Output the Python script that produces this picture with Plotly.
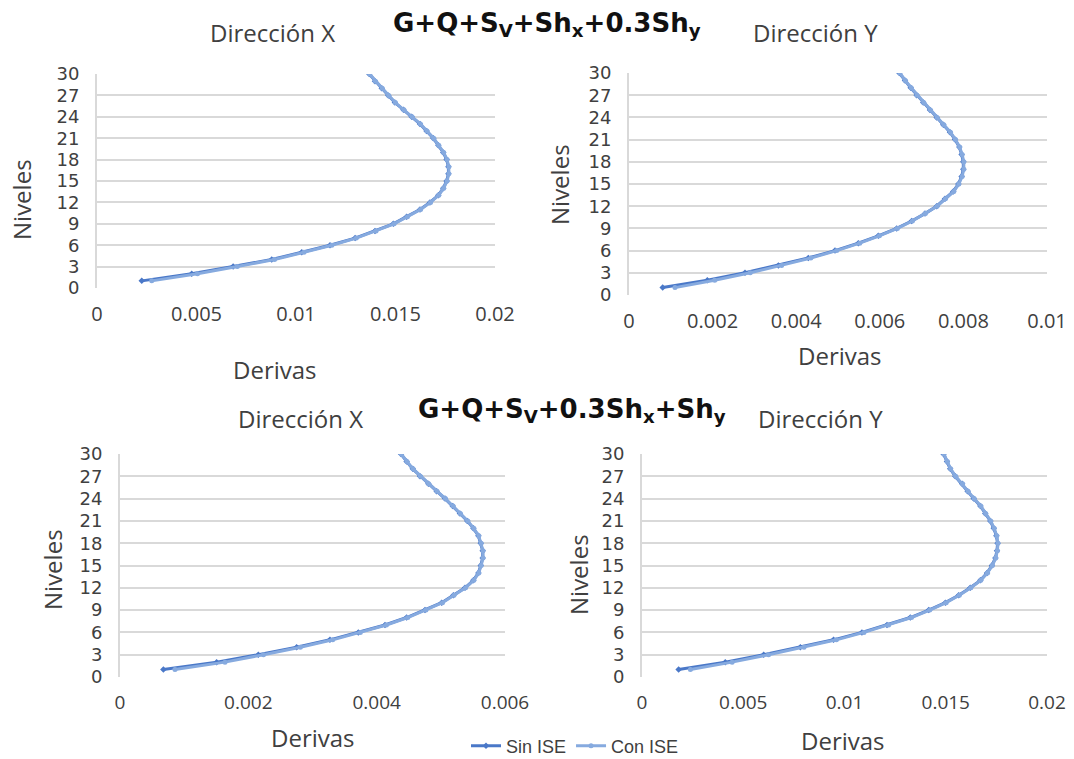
import plotly.graph_objects as go

niveles = list(range(1, 31))

# Panel 1: G+Q+Sv+Shx+0.3Shy, Dirección X
p1_sin = [0.00225,0.00476,0.00684,0.00878,0.01029,0.01171,0.01297,0.01397,0.01489,0.01556,
          0.01623,0.01673,0.01715,0.0174,0.01757,0.01766,0.01766,0.01757,0.0174,0.01715,
          0.0169,0.01656,0.01623,0.01581,0.0154,0.01497,0.01464,0.01431,0.01397,0.01368]
p1_con = [0.00275,0.00505,0.00705,0.00892,0.01040,0.01180,0.01303,0.01402,0.01493,0.01560,
          0.01626,0.01676,0.01717,0.01742,0.01759,0.01768,0.01768,0.01759,0.01742,0.01717,
          0.01692,0.01658,0.01625,0.01583,0.01542,0.01499,0.01466,0.01433,0.01399,0.01370]
# Panel 2: G+Q+Sv+Shx+0.3Shy, Dirección Y
p2_sin = [0.000806,0.001874,0.002775,0.003573,0.00429,0.004928,0.005486,0.005964,0.006404,0.006763,
          0.007081,0.007361,0.00756,0.007758,0.007878,0.007958,0.007998,0.007998,0.007958,0.007902,
          0.0078,0.00768,0.00752,0.007361,0.007201,0.00704,0.006882,0.006739,0.006603,0.006467]
p2_con = [0.0011,0.00205,0.00290,0.00365,0.00435,0.00497,0.00552,0.00599,0.00642,0.00678,
          0.00709,0.00737,0.00757,0.00777,0.00789,0.00797,0.00801,0.00801,0.00797,0.00791,
          0.00781,0.00769,0.00753,0.00737,0.00721,0.00705,0.00689,0.00675,0.00661,0.00648]
# Panel 3: G+Q+Sv+0.3Shx+Shy, Dirección X
p3_sin = [0.000676,0.001506,0.002156,0.002753,0.003272,0.003714,0.00413,0.004467,0.004753,0.005013,
          0.005195,0.005377,0.005507,0.005585,0.005622,0.005652,0.005652,0.005622,0.005585,0.005507,
          0.005413,0.005298,0.005185,0.005065,0.004935,0.004806,0.004675,0.004562,0.004467,0.004379]
p3_con = [0.000857,0.001636,0.002236,0.002810,0.003315,0.003745,0.004152,0.004485,0.004768,0.005025,
          0.005205,0.005386,0.005514,0.005591,0.005628,0.005657,0.005657,0.005628,0.005591,0.005513,
          0.005419,0.005304,0.005190,0.005070,0.004940,0.004810,0.004680,0.004566,0.004471,0.004383]
# Panel 4: G+Q+Sv+0.3Shx+Shy, Dirección Y
p4_sin = [0.00181,0.00411,0.00601,0.00782,0.00946,0.01086,0.0121,0.01325,0.01416,0.01498,
          0.01564,0.01621,0.01671,0.01704,0.01728,0.01745,0.01753,0.01756,0.0175,0.01737,
          0.0172,0.01695,0.01671,0.01638,0.01608,0.01581,0.01547,0.01522,0.01506,0.01489]
p4_con = [0.00239,0.00445,0.00625,0.00800,0.00960,0.01096,0.01218,0.01331,0.01421,0.01502,
          0.01567,0.01624,0.01673,0.01706,0.01730,0.01747,0.01755,0.01758,0.01752,0.01739,
          0.01722,0.01697,0.01673,0.01640,0.01610,0.01583,0.01549,0.01524,0.01508,0.01491]

y_ticks = list(range(0, 31, 3))
x_ticks_p1 = [0, 0.005, 0.01, 0.015, 0.02]
x_ticks_p2 = [0, 0.002, 0.004, 0.006, 0.008, 0.01]
x_ticks_p3 = [0, 0.002, 0.004, 0.006]
x_ticks_p4 = [0, 0.005, 0.01, 0.015, 0.02]

title_top = "G+Q+S<sub>V</sub>+Sh<sub>x</sub>+0.3Sh<sub>y</sub>"
title_bottom = "G+Q+S<sub>V</sub>+0.3Sh<sub>x</sub>+Sh<sub>y</sub>"

W, H = 1074, 759
SIN_COLOR = "#4A78C8"
CON_COLOR = "#86AADF"

panels = [
    # (sin, con, xticks, x px domain, y px domain (top,bottom), tick font size)
    (p1_sin, p1_con, x_ticks_p1, (97, 495), (74, 288), 20),
    (p2_sin, p2_con, x_ticks_p2, (629, 1047), (73, 295), 20),
    (p3_sin, p3_con, x_ticks_p3, (120, 505), (454, 677), 19),
    (p4_sin, p4_con, x_ticks_p4, (642, 1047), (454, 677), 19),
]

fig = go.Figure()
layout = {}
for i, (sin, con, xt, (x0, x1), (yt, yb), tsize) in enumerate(panels, start=1):
    xa = "x" if i == 1 else f"x{i}"
    ya = "y" if i == 1 else f"y{i}"
    fig.add_trace(go.Scatter(
        x=sin, y=niveles, xaxis=xa, yaxis=ya, name="Sin ISE", mode="lines+markers",
        line=dict(color=SIN_COLOR, width=3), marker=dict(symbol="diamond", size=5, color=SIN_COLOR),
        showlegend=(i == 1), legendgroup="sin"))
    fig.add_trace(go.Scatter(
        x=con, y=niveles, xaxis=xa, yaxis=ya, name="Con ISE", mode="lines+markers",
        line=dict(color=CON_COLOR, width=3), marker=dict(symbol="circle", size=5, color=CON_COLOR),
        showlegend=(i == 1), legendgroup="con"))
    layout[f"xaxis{'' if i == 1 else i}"] = dict(
        domain=[x0 / W, x1 / W], anchor=ya, range=[0, xt[-1]], tickvals=xt,
        ticktext=[f"{v:g}" for v in xt], showgrid=False, zeroline=False, showline=False,
        automargin=False,
        ticks="", tickfont=dict(family="Open Sans", size=tsize, color="#404040"), ticklabelstandoff=12)
    layout[f"yaxis{'' if i == 1 else i}"] = dict(
        domain=[1 - yb / H, 1 - yt / H], anchor=xa, range=[0, 30], tickvals=y_ticks,
        showgrid=True, gridcolor="#D9D9D9", gridwidth=2, zeroline=False,
        showline=True, linecolor="#D9D9D9", linewidth=2, ticks="", automargin=False,
        tickfont=dict(family="DejaVu Sans", size=18, color="#404040"), ticklabelstandoff=12)

fig.update_layout(**layout)

annotations = []
def txt(x, y, s, size=24, angle=0, family="Open Sans", color="#404040"):
    annotations.append(dict(
        x=x / W, y=1 - y / H, xref="paper", yref="paper", text=s, showarrow=False,
        textangle=angle, xanchor="center", yanchor="middle",
        font=dict(family=family, size=size, color=color)))

txt(272, 33, "Dirección X")
txt(815, 33, "Dirección Y")
txt(547, 24, "<b>" + title_top + "</b>", size=26, family="DejaVu Sans", color="#111111")
txt(300, 418, "Dirección X")
txt(820, 418, "Dirección Y")
txt(572, 410, "<b>" + title_bottom + "</b>", size=26, family="DejaVu Sans", color="#111111")
txt(22, 200, "Niveles", angle=-90)
txt(560, 185, "Niveles", angle=-90)
txt(52, 570, "Niveles", angle=-90)
txt(578, 575, "Niveles", angle=-90)
txt(275, 370, "Derivas")
txt(840, 355, "Derivas")
txt(313, 737, "Derivas")
txt(843, 740, "Derivas")

fig.update_layout(
    annotations=annotations,
    width=W, height=H,
    margin=dict(l=0, r=0, t=0, b=0, autoexpand=False),
    paper_bgcolor="white", plot_bgcolor="white",
    showlegend=True,
    legend=dict(orientation="h", x=575 / W, y=1 - 746 / H, xanchor="center", yanchor="middle",
                font=dict(family="Liberation Sans", size=18, color="#404040"),
                itemwidth=30, bgcolor="rgba(0,0,0,0)"),
)

fig.write_html(
    "out.html",
    config={"displayModeBar": False},
    post_script="document.body.style.margin='0';document.body.style.padding='0';document.body.style.overflow='hidden';",
)
